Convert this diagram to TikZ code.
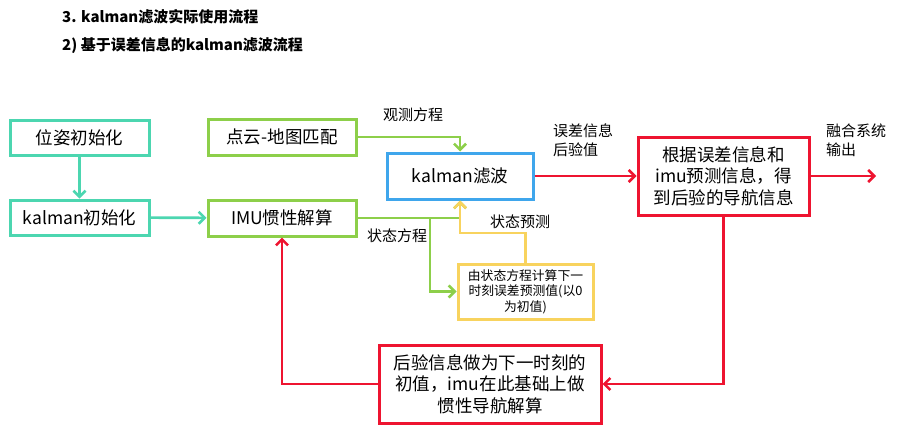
\documentclass[tikz,border=0pt]{standalone}
\usepackage{fontspec}
\setmainfont{Noto Sans CJK SC}
\usetikzlibrary{arrows.meta}
\definecolor{cteal}{HTML}{4CD6B0}
\definecolor{cgreen}{HTML}{8DCF4A}
\definecolor{cblue}{HTML}{3FA6EC}
\definecolor{cred}{HTML}{EE1430}
\definecolor{cyellow}{HTML}{F8D35E}
\tikzset{
  box/.style={draw, line width=3pt, rectangle, inner sep=0pt, align=center,
    font=\fontsize{17.5}{21.5}\selectfont},
  lbl/.style={inner sep=0pt, align=left, font=\fontsize{15}{19}\selectfont},
  conn/.style={line width=2.6pt, -{Straight Barb[length=6pt,width=12pt,line width=2.6pt]}},
}
\begin{document}
\begin{tikzpicture}[x=1pt,y=-1pt]
\useasboundingbox (0,0) rectangle (899,434);
% titles
\node[anchor=west, inner sep=0pt, font=\fontsize{15}{17}\selectfont\bfseries] (t1) at (62,17) {3. kalman滤波实际使用流程};
\node[anchor=west, inner sep=0pt, font=\fontsize{15}{17}\selectfont\bfseries] (t2) at (62,46) {2) 基于误差信息的kalman滤波流程};
% boxes
\node[box, draw=cteal, minimum width=139pt, minimum height=35pt] (pose) at (79.5,137.5) {位姿初始化};
\node[box, draw=cteal, minimum width=139pt, minimum height=35pt] (kinit) at (79.5,217.5) {kalman初始化};
\node[box, draw=cgreen, minimum width=148pt, minimum height=36pt] (pcm) at (282,137) {点云-地图匹配};
\node[box, draw=cgreen, minimum width=148pt, minimum height=36pt] (imu) at (282,218) {IMU惯性解算};
\node[box, draw=cblue, minimum width=146pt, minimum height=46pt] (kf) at (460,176) {kalman滤波};
\node[box, draw=cred, minimum width=171pt, minimum height=78pt] (post) at (723.5,176) {根据误差信息和\\imu预测信息，得\\到后验的导航信息};
\node[box, draw=cyellow, minimum width=135pt, minimum height=55pt, font=\fontsize{12.8}{15.5}\selectfont] (pred) at (525.5,291.5) {由状态方程计算下一\\时刻误差预测值(以0\\为初值)};
\node[box, draw=cred, minimum width=222pt, minimum height=78pt] (next) at (490,384) {后验信息做为下一时刻的\\初值，imu在此基础上做\\惯性导航解算};
% coordinates
\coordinate (sj) at (430,218);
\coordinate (yb) at (525.5,233);
\coordinate (out) at (876,176);
% connectors
\draw[conn, draw=cteal] (pose) -- (kinit);
\draw[conn, draw=cteal] (kinit) -- (imu);
\draw[conn, draw=cgreen] (pcm.east) -| (kf.north);
\draw[conn, draw=cgreen] (imu.east) -| (kf.south);
\draw[conn, draw=cgreen] (sj) |- (pred.west);
\draw[conn, draw=cyellow] (pred.north) -- (yb) -| (kf.south);
\draw[conn, draw=cred] (kf) -- (post);
\draw[conn, draw=cred] (post) -- (out);
\draw[conn, draw=cred] (post.south) |- (next.east);
\draw[conn, draw=cred] (next.west) -| (imu.south);
% labels
\node[lbl] (l1) at (413,115) {观测方程};
\node[lbl, anchor=north west] (l2) at (553,124) {误差信息\\后验值};
\node[lbl, anchor=north west] (l3) at (826,124) {融合系统\\输出};
\node[lbl] (l4) at (520,222) {状态预测};
\node[lbl] (l5) at (397,236) {状态方程};
\end{tikzpicture}
\end{document}
